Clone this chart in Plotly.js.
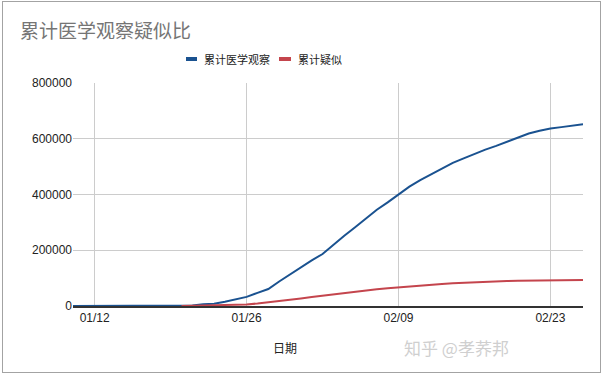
<!DOCTYPE html>
<html>
<head>
<meta charset="utf-8">
<script src="https://cdn.plot.ly/plotly-3.0.1.min.js"></script>
<style>
  html, body { margin: 0; padding: 0; background: #fff; }
  #wrap { position: relative; width: 604px; height: 376px; overflow: hidden; }
  #chart { position: absolute; left: 0; top: 0; width: 604px; height: 376px; }
  #frame { position: absolute; left: 2px; top: 1px; width: 597px; height: 370px; border: 1px solid #a3a3a3; pointer-events: none; }
</style>
</head>
<body>
<div id="wrap">
  <div id="chart"></div>
  <div id="frame"></div>
</div>
<script>
const dates = [
  '2020-01-10','2020-01-11','2020-01-12','2020-01-13','2020-01-14','2020-01-15','2020-01-16','2020-01-17',
  '2020-01-18','2020-01-19','2020-01-20','2020-01-21','2020-01-22','2020-01-23','2020-01-24','2020-01-25',
  '2020-01-26','2020-01-27','2020-01-28','2020-01-29','2020-01-30','2020-01-31','2020-02-01','2020-02-02',
  '2020-02-03','2020-02-04','2020-02-05','2020-02-06','2020-02-07','2020-02-08','2020-02-09','2020-02-10',
  '2020-02-11','2020-02-12','2020-02-13','2020-02-14','2020-02-15','2020-02-16','2020-02-17','2020-02-18',
  '2020-02-19','2020-02-20','2020-02-21','2020-02-22','2020-02-23','2020-02-24','2020-02-25','2020-02-26'
];
const observed = [
  0, 0, 0, 0, 0, 0, 0, 0,
  0, 0, 500, 1400, 5900, 8400, 15200, 23400,
  32800, 47000, 61000, 88000, 113600, 137000, 163800, 186400,
  221000, 252200, 282800, 314000, 345500, 371900, 399500, 428400,
  451500, 471500, 493100, 513200, 529400, 546000, 560900, 574400,
  589200, 606000, 618900, 628500, 636800, 641700, 647400, 652500
];
const suspected = [
  null, null, null, null, null, null, null, null,
  null, null, 0, 500, 1000, 1500, 2500, 3500,
  5500, 9000, 13000, 18000, 22000, 27000, 32000, 37000,
  42000, 47000, 52000, 56000, 60000, 64000, 67500, 70500,
  73500, 76500, 79000, 81500, 83500, 85000, 86500, 88000,
  89500, 90500, 91300, 92000, 92500, 93000, 93300, 93500
];
const seriesNames = ['累计医学观察', '累计疑似'];
const tickDates = ['2020-01-12', '2020-01-26', '2020-02-09', '2020-02-23'];
const tickLabels = ['01/12', '01/26', '02/09', '02/23'];
const chartTitle = '累计医学观察疑似比';
const xTitle = '日期';
const watermark = '知乎 @孝荞邦';

const colors = ['#1a5290', '#c4454d'];
const FONT = 'Arial, "Liberation Sans", "Noto Sans CJK SC", sans-serif';
const CJK = '"Noto Sans CJK SC", sans-serif';

const traces = [
  { x: dates, y: observed, name: seriesNames[0], type: 'scatter', mode: 'lines',
    line: { color: colors[0], width: 2 }, showlegend: false, hoverinfo: 'skip' },
  { x: dates, y: suspected, name: seriesNames[1], type: 'scatter', mode: 'lines',
    line: { color: colors[1], width: 2 }, showlegend: false, hoverinfo: 'skip' }
];

const layout = {
  width: 604, height: 376,
  margin: { l: 73, r: 21, t: 83, b: 70 },
  paper_bgcolor: '#ffffff', plot_bgcolor: '#ffffff',
  font: { family: FONT, size: 12, color: '#222' },
  title: {
    text: chartTitle, xref: 'container', yref: 'container',
    x: 20 / 604, xanchor: 'left', y: 1 - 31 / 376, yanchor: 'middle',
    font: { family: CJK, size: 19, color: '#757575' }
  },
  xaxis: {
    type: 'date', range: [dates[0], dates[dates.length - 1]],
    tickmode: 'array', tickvals: tickDates, ticktext: tickLabels,
    showgrid: true, gridcolor: '#cccccc', gridwidth: 1,
    showline: true, linecolor: '#333333', linewidth: 1.5,
    zeroline: false, ticks: '', tickfont: { size: 12, color: '#222' }
  },
  yaxis: {
    range: [0, 800000], dtick: 200000, tickformat: 'd',
    showgrid: true, gridcolor: '#cccccc', gridwidth: 1,
    zeroline: false, showline: false, ticks: '',
    tickfont: { size: 12, color: '#222' }
  },
  shapes: [
    { type: 'rect', xref: 'paper', yref: 'paper',
      x0: (186 - 73) / 510, x1: (197 - 73) / 510, y0: (306 - 61) / 223, y1: (306 - 57) / 223,
      fillcolor: colors[0], line: { width: 0 } },
    { type: 'rect', xref: 'paper', yref: 'paper',
      x0: (279 - 73) / 510, x1: (291 - 73) / 510, y0: (306 - 61) / 223, y1: (306 - 57) / 223,
      fillcolor: colors[1], line: { width: 0 } }
  ],
  annotations: [
    { text: seriesNames[0], xref: 'paper', yref: 'paper', x: (202 - 73) / 510, y: (306 - 59) / 223,
      xanchor: 'left', yanchor: 'middle', showarrow: false,
      font: { family: CJK, size: 11, color: '#222' } },
    { text: seriesNames[1], xref: 'paper', yref: 'paper', x: (296 - 73) / 510, y: (306 - 59) / 223,
      xanchor: 'left', yanchor: 'middle', showarrow: false,
      font: { family: CJK, size: 11, color: '#222' } },
    { text: xTitle, xref: 'paper', yref: 'paper', x: (285 - 73) / 510, y: (306 - 347) / 223,
      xanchor: 'center', yanchor: 'middle', showarrow: false,
      font: { family: CJK, size: 12, color: '#222' } },
    { text: watermark, xref: 'paper', yref: 'paper', x: (511 - 73) / 510, y: (306 - 347) / 223,
      xanchor: 'right', yanchor: 'middle', showarrow: false,
      font: { family: CJK, size: 17, color: '#cfcfcf' } }
  ]
};

Plotly.newPlot('chart', traces, layout, { staticPlot: true, displayModeBar: false });
</script>
</body>
</html>
